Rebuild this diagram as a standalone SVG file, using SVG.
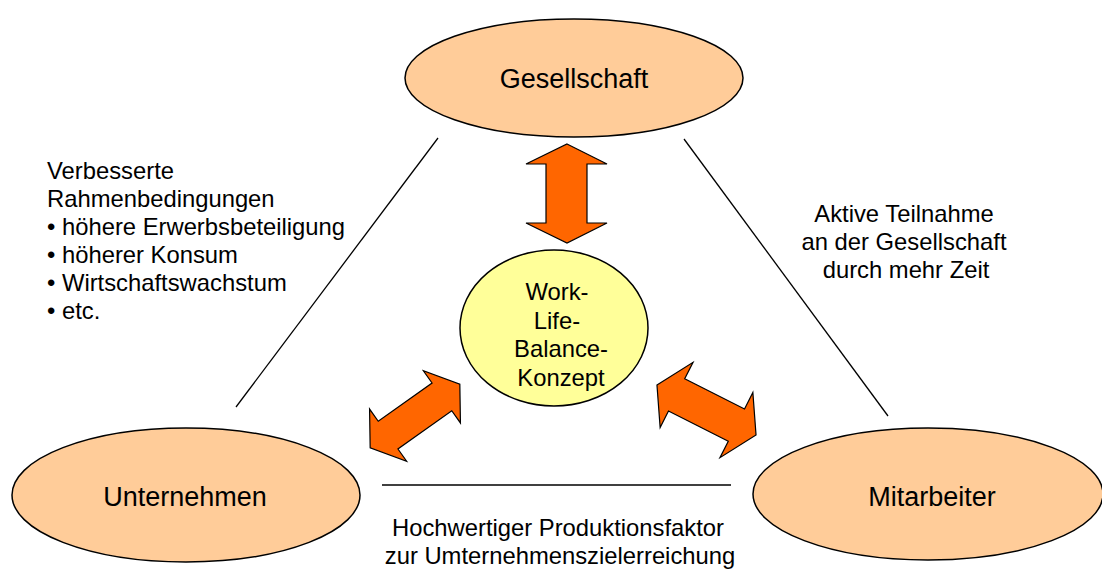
<svg xmlns="http://www.w3.org/2000/svg" width="1102" height="569" viewBox="0 0 1102 569">
  <style>
    .party { fill: #FFCC99; stroke: #000; stroke-width: 1.5; }
    .core { fill: #FFFF99; stroke: #000; stroke-width: 1.5; }
    .arrow { fill: #FF6600; stroke: #000; stroke-width: 1.2; stroke-linejoin: miter; }
    .link { stroke: #000; stroke-width: 1.3; fill: none; }
    text { font-family: "Liberation Sans", Arial, sans-serif; fill: #000; }
    .label { font-size: 27px; text-anchor: middle; }
    .small { font-size: 23.8px; }
    .mid { text-anchor: middle; }
  </style>

  <!-- connecting lines between the three parties -->
  <g id="connectors">
    <line class="link" x1="438" y1="138" x2="236" y2="407"/>
    <line class="link" x1="684" y1="139" x2="888" y2="416"/>
    <line class="link" x1="382" y1="485" x2="731" y2="485"/>
  </g>

  <!-- double-headed block arrows around the central concept -->
  <g id="arrows">
    <polygon class="arrow" points="567,144 607,164 587,164 587,223 607,223 567,243 526,223 546,223 546,164 526,164"/>
    <polygon class="arrow" transform="translate(415,416) rotate(-35.4)"
             points="-55,0 -33,-32 -33,-17 33,-17 33,-32 55,0 33,32 33,17 -33,17 -33,32"/>
    <polygon class="arrow" transform="translate(706.5,410) rotate(26.8)"
             points="-55.5,0 -33.5,-36.5 -33.5,-18 33.5,-18 33.5,-36.5 55.5,0 33.5,36.5 33.5,18 -33.5,18 -33.5,36.5"/>
  </g>

  <g id="gesellschaft">
    <ellipse class="party" cx="574" cy="78" rx="169" ry="59"/>
    <text class="label" x="574" y="88">Gesellschaft</text>
  </g>

  <g id="unternehmen">
    <ellipse class="party" cx="186" cy="495" rx="174" ry="67"/>
    <text class="label" x="185" y="506">Unternehmen</text>
  </g>

  <g id="mitarbeiter">
    <ellipse class="party" cx="928" cy="494" rx="175" ry="66"/>
    <text class="label" x="932" y="506">Mitarbeiter</text>
  </g>

  <g id="work-life-balance">
    <ellipse class="core" cx="554" cy="328" rx="94" ry="78"/>
    <text class="small mid" x="557" y="300">Work-</text>
    <text class="small mid" x="557" y="328.5">Life-</text>
    <text class="small mid" x="561" y="357">Balance-</text>
    <text class="small mid" x="561" y="385.5">Konzept</text>
  </g>

  <!-- edge descriptions -->
  <g id="label-left">
    <text class="small" x="47" y="179">Verbesserte</text>
    <text class="small" x="47" y="207">Rahmenbedingungen</text>
    <text class="small" x="47" y="235">• höhere Erwerbsbeteiligung</text>
    <text class="small" x="47" y="263">• höherer Konsum</text>
    <text class="small" x="47" y="291">• Wirtschaftswachstum</text>
    <text class="small" x="47" y="319">• etc.</text>
  </g>

  <g id="label-right">
    <text class="small mid" x="904" y="222">Aktive Teilnahme</text>
    <text class="small mid" x="904" y="250">an der Gesellschaft</text>
    <text class="small mid" x="906" y="278">durch mehr Zeit</text>
  </g>

  <g id="label-bottom">
    <text class="small mid" x="558" y="536">Hochwertiger Produktionsfaktor</text>
    <text class="small mid" x="560" y="564">zur Umternehmenszielerreichung</text>
  </g>
</svg>
